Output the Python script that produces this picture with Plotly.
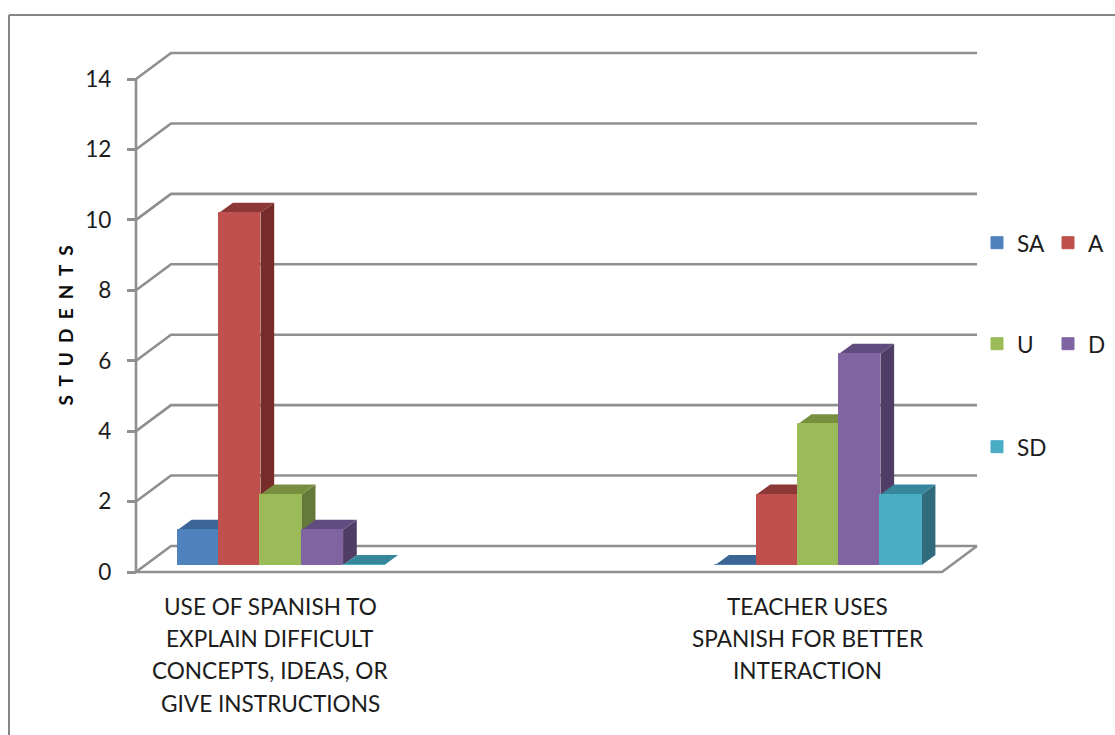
import plotly.graph_objects as go

# Survey responses per statement
category_lines = [
    ["USE OF SPANISH TO", "EXPLAIN DIFFICULT", "CONCEPTS, IDEAS, OR", "GIVE INSTRUCTIONS"],
    ["TEACHER USES", "SPANISH FOR BETTER", "INTERACTION"],
]
category_positions = [0, 2]
series_names = ["SA", "A", "U", "D", "SD"]
sa_values = [1, 0]
a_values = [10, 2]
u_values = [2, 4]
d_values = [1, 6]
sd_values = [0, 2]
series_values = [sa_values, a_values, u_values, d_values, sd_values]
y_ticks = [0, 2, 4, 6, 8, 10, 12, 14]
y_title = "STUDENTS"

# Face shades for each series: front, top, side
front_colors = ["#4f81bd", "#c0504d", "#9bbb59", "#8064a2", "#4bacc6"]
top_colors = ["#3a6595", "#8c3836", "#788f3f", "#614c80", "#36869c"]
side_colors = ["#335a87", "#772c2a", "#64793a", "#503d66", "#2f6b7c"]

W, H = 1115, 735
GRID = "#8f8f8f"
FONT = "Lato, Carlito, sans-serif"
TEXT = "#1c1c1c"

# Front plane of the chart box, in pixels
LEFT, RIGHT, TOP, BOTTOM = 136, 942, 79, 572
BAR_LIFT = 7
cat_px = (RIGHT - LEFT) / 3
val_px = (BOTTOM - TOP) / 14


def xu(px):
    return px / cat_px


def yu(px):
    return px / val_px


wall_dx, wall_dy = xu(35), yu(26)
depth_dx, depth_dy = xu(13.7), yu(10)
bar_w = xu(41.3)
group_shift = xu(10.8)

x_low, x_high = -0.5, 2.5
fig = go.Figure()


def line_trace(xs, ys):
    return go.Scatter(
        x=xs, y=ys, mode="lines", line=dict(color=GRID, width=2.6),
        hoverinfo="skip", showlegend=False,
    )


# Receding gridlines along the side and back walls
for t in y_ticks:
    fig.add_trace(line_trace(
        [x_low, x_low + wall_dx, x_high + wall_dx],
        [t, t + wall_dy, t + wall_dy],
    ))
# Value axis, front floor edge and right floor edge
fig.add_trace(line_trace([x_low, x_low], [y_ticks[0], y_ticks[-1]]))
fig.add_trace(line_trace([x_low, x_high, x_high + wall_dx], [0, 0, wall_dy]))

# Bars with their top and side faces, left to right so later bars overlap earlier ones
z = 1
for i, (name, values) in enumerate(zip(series_names, series_values)):
    centers = [p + group_shift + (i - 2) * bar_w for p in category_positions]
    for c, v in zip(centers, values):
        x0, x1 = c - bar_w / 2, c + bar_w / 2
        fig.add_trace(go.Scatter(
            x=[x1, x1 + depth_dx, x1 + depth_dx, x1, x1],
            y=[0, depth_dy, v + depth_dy, v, 0],
            yaxis="y2", mode="lines", fill="toself", fillcolor=side_colors[i],
            line=dict(width=0), hoverinfo="skip", showlegend=False, zorder=z,
        ))
        fig.add_trace(go.Scatter(
            x=[x0, x1, x1 + depth_dx, x0 + depth_dx, x0],
            y=[v, v, v + depth_dy, v + depth_dy, v],
            yaxis="y2", mode="lines", fill="toself", fillcolor=top_colors[i],
            line=dict(width=0), hoverinfo="skip", showlegend=False, zorder=z,
        ))
    fig.add_trace(go.Bar(
        x=centers, y=values, width=bar_w, name=name, yaxis="y2",
        marker=dict(color=front_colors[i], line=dict(color=front_colors[i], width=1)),
        legend="legend" if i == 0 else f"legend{i + 1}",
        zorder=z + 1,
    ))
    z += 2

# Legend entries sit in a loose two-column arrangement
legend_spots = [(977, 243), (1048, 243), (977, 344), (1048, 344), (977, 447)]
legends = {}
for i, (lx, ly) in enumerate(legend_spots):
    key = "legend" if i == 0 else f"legend{i + 1}"
    legends[key] = dict(
        x=lx / W, y=1 - ly / H, xanchor="left", yanchor="middle",
        bgcolor="rgba(0,0,0,0)", borderwidth=0,
        font=dict(family=FONT, size=22.6, color=TEXT),
        itemclick=False, itemdoubleclick=False,
    )

# Category captions, one annotation per line for the wide leading
annotations = []
for pos, lines in zip(category_positions, category_lines):
    for n, text in enumerate(lines):
        annotations.append(dict(
            x=pos, xref="x", y=1 - (606 + n * 32.4) / H, yref="paper",
            text=text, showarrow=False, xanchor="center", yanchor="middle",
            font=dict(family=FONT, size=22.6, color=TEXT),
        ))

# Letter-spaced value axis title, centred on the front plane
annotations.append(dict(
    x=65 / W, xref="paper", y=1 - (TOP + BOTTOM) / 2 / H, yref="paper",
    text="<b>" + "\u00a0\u00a0".join(y_title) + "</b>", textangle=-90,
    showarrow=False, xanchor="center", yanchor="middle",
    font=dict(family=FONT, size=19, color="#0d0d0d"),
))

# Outer chart frame, running off the right and bottom edges
shapes = [
    dict(type="line", xref="paper", yref="paper", x0=9 / W, x1=1, y0=1 - 15 / H, y1=1 - 15 / H,
         line=dict(color="#868686", width=2)),
    dict(type="line", xref="paper", yref="paper", x0=9 / W, x1=9 / W, y0=1 - 15 / H, y1=0,
         line=dict(color="#868686", width=2)),
]

fig.update_layout(
    width=W, height=H, margin=dict(l=0, r=0, t=0, b=0, autoexpand=False),
    paper_bgcolor="white", plot_bgcolor="rgba(0,0,0,0)",
    barmode="overlay", bargap=0, showlegend=True,
    annotations=annotations, shapes=shapes,
    # Axes span the full page so the receding walls are never clipped
    xaxis=dict(
        domain=[0, 1], range=[x_low - xu(LEFT), x_low + xu(W - LEFT)],
        showgrid=False, zeroline=False, showticklabels=False, ticks="", showline=False,
        automargin=False,
    ),
    yaxis=dict(
        domain=[0, 1], range=[-yu(H - BOTTOM), yu(BOTTOM)],
        anchor="free", position=LEFT / W,
        tickmode="array", tickvals=y_ticks, ticktext=[str(t) for t in y_ticks],
        showgrid=False, zeroline=False, showline=False,
        ticks="outside", ticklen=9, tickwidth=2.6, tickcolor=GRID,
        ticklabelstandoff=11, automargin=False,
        tickfont=dict(family=FONT, size=22.6, color=TEXT),
    ),
    # Same scale, with the bars standing slightly above the front edge of the floor
    yaxis2=dict(
        overlaying="y", visible=False,
        range=[-yu(H - BOTTOM + BAR_LIFT), yu(BOTTOM - BAR_LIFT)],
    ),
    **legends,
)

fig.write_html("out.html")
